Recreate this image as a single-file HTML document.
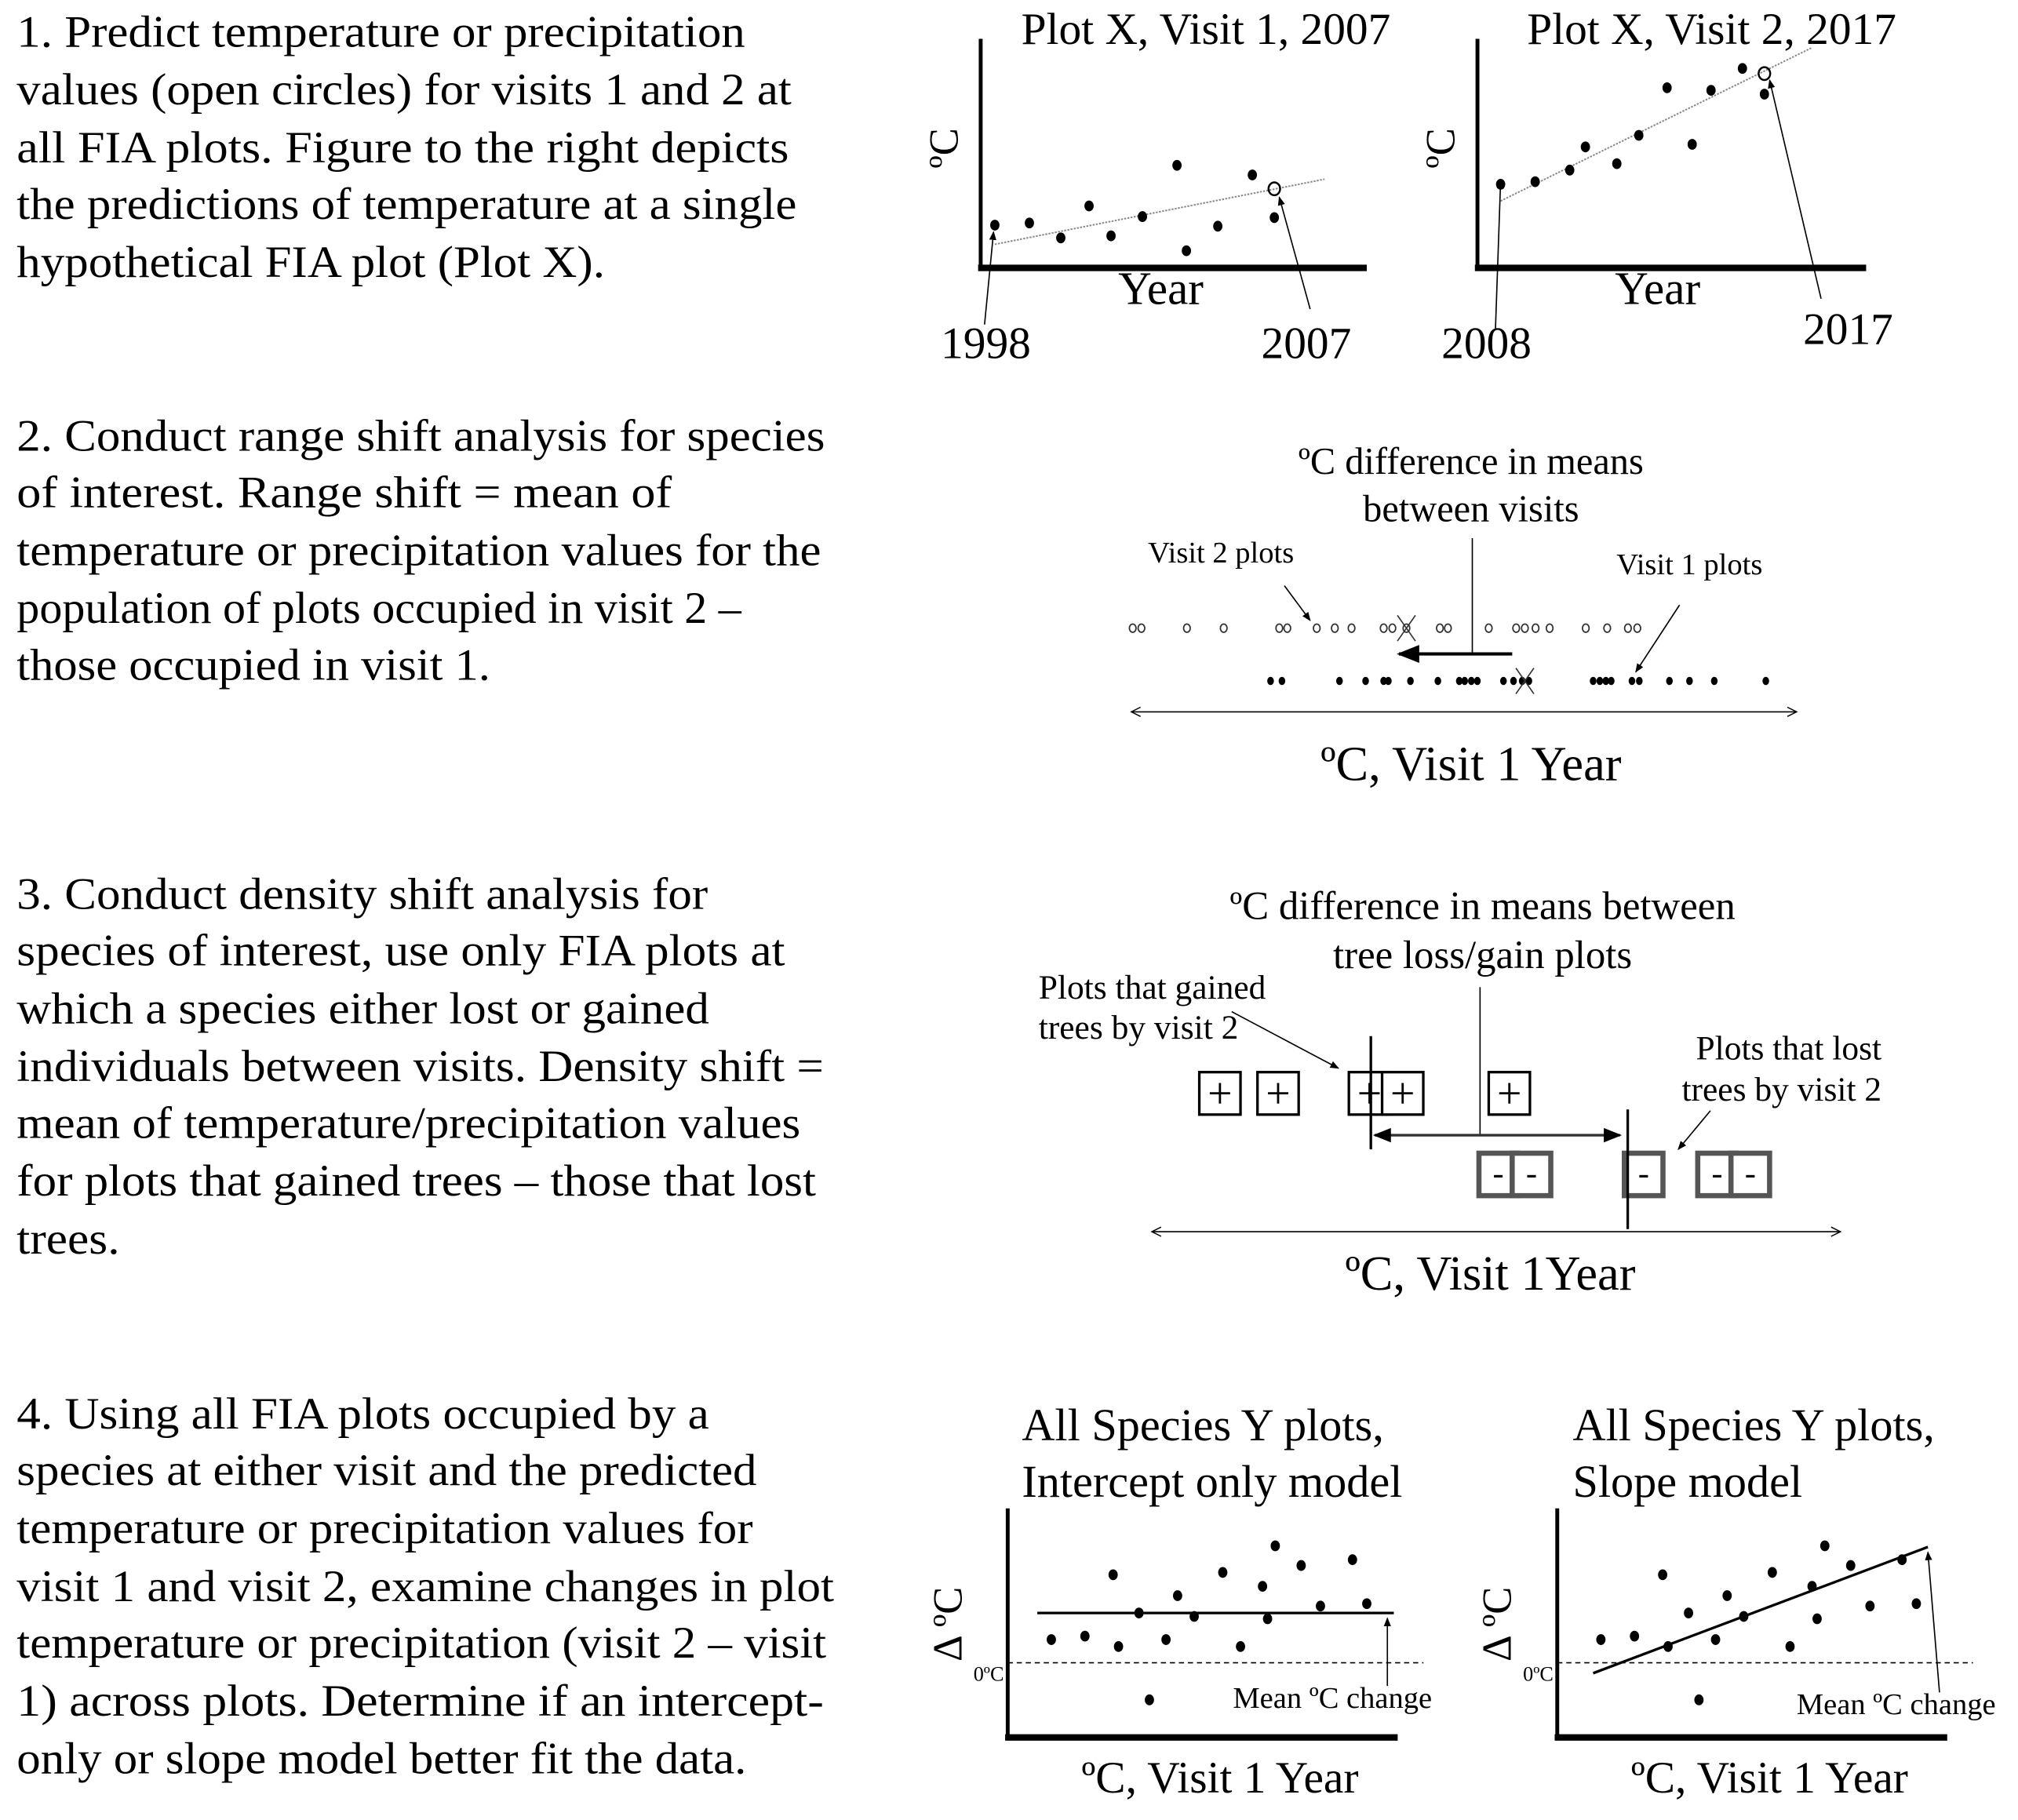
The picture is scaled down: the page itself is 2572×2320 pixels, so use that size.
<!DOCTYPE html>
<html><head><meta charset="utf-8">
<style>
html,body{margin:0;padding:0;background:#fff;}
svg{display:block;}
text{font-family:"Liberation Serif","Times New Roman",serif;fill:#000;}
</style></head>
<body>
<svg id="fig" width="2572" height="2320" viewBox="0 0 1568 1414" xmlns="http://www.w3.org/2000/svg">
<defs>
<marker id="ah" viewBox="0 0 10 10" refX="9" refY="5" markerWidth="7" markerHeight="7" orient="auto-start-reverse"><path d="M0,1 L10,5 L0,9 z" fill="#000"/></marker>
<marker id="ao" viewBox="0 0 10 10" refX="9" refY="5" markerWidth="9" markerHeight="9" orient="auto-start-reverse"><path d="M1,1 L9,5 L1,9" fill="none" stroke="#000" stroke-width="1"/></marker>
</defs>

<g font-size="35" lengthAdjust="spacingAndGlyphs">
<text x="13" y="36" textLength="566" lengthAdjust="spacingAndGlyphs">1. Predict temperature or precipitation</text>
<text x="13" y="81" textLength="602" lengthAdjust="spacingAndGlyphs">values (open circles) for visits 1 and 2 at</text>
<text x="13" y="126" textLength="600" lengthAdjust="spacingAndGlyphs">all FIA plots.  Figure to the right depicts</text>
<text x="13" y="170" textLength="606" lengthAdjust="spacingAndGlyphs">the predictions of temperature at a single</text>
<text x="13" y="215" textLength="457" lengthAdjust="spacingAndGlyphs">hypothetical FIA plot (Plot X).</text>
</g>
<g font-size="35">
<text x="13" y="350" textLength="628" lengthAdjust="spacingAndGlyphs">2. Conduct range shift analysis for species</text>
<text x="13" y="394" textLength="509" lengthAdjust="spacingAndGlyphs">of interest.  Range shift = mean of</text>
<text x="13" y="439" textLength="625" lengthAdjust="spacingAndGlyphs">temperature or precipitation values for the</text>
<text x="13" y="484" textLength="563" lengthAdjust="spacingAndGlyphs">population of plots occupied in visit 2 –</text>
<text x="13" y="528" textLength="368" lengthAdjust="spacingAndGlyphs">those occupied in visit 1.</text>
</g>
<g font-size="35">
<text x="13" y="706" textLength="537" lengthAdjust="spacingAndGlyphs">3. Conduct density shift analysis for</text>
<text x="13" y="750" textLength="597" lengthAdjust="spacingAndGlyphs">species of interest, use only FIA plots at</text>
<text x="13" y="795" textLength="538" lengthAdjust="spacingAndGlyphs">which a species either lost or gained</text>
<text x="13" y="840" textLength="627" lengthAdjust="spacingAndGlyphs">individuals between visits. Density shift =</text>
<text x="13" y="884" textLength="609" lengthAdjust="spacingAndGlyphs">mean of temperature/precipitation values</text>
<text x="13" y="929" textLength="621" lengthAdjust="spacingAndGlyphs">for plots that gained trees – those that lost</text>
<text x="13" y="974" textLength="80" lengthAdjust="spacingAndGlyphs">trees.</text>
</g>
<g font-size="35">
<text x="13" y="1110" textLength="538" lengthAdjust="spacingAndGlyphs">4. Using all FIA plots occupied by a</text>
<text x="13" y="1154" textLength="575" lengthAdjust="spacingAndGlyphs">species at either visit and the predicted</text>
<text x="13" y="1199" textLength="572" lengthAdjust="spacingAndGlyphs">temperature or precipitation values for</text>
<text x="13" y="1244" textLength="635" lengthAdjust="spacingAndGlyphs">visit 1 and visit 2, examine changes in plot</text>
<text x="13" y="1288" textLength="629" lengthAdjust="spacingAndGlyphs">temperature or precipitation (visit 2 – visit</text>
<text x="13" y="1333" textLength="627" lengthAdjust="spacingAndGlyphs">1) across plots.  Determine if an intercept-</text>
<text x="13" y="1378" textLength="567" lengthAdjust="spacingAndGlyphs">only or slope model better fit the data.</text>
</g>

<g>
<text x="937" y="34" font-size="35" text-anchor="middle">Plot X, Visit 1, 2007</text>
<line x1="762" y1="30" x2="762" y2="208" stroke="#000" stroke-width="3"/>
<line x1="760" y1="208" x2="1062" y2="208" stroke="#000" stroke-width="5"/>
<text transform="translate(744,115) rotate(-90)" font-size="32" text-anchor="middle">ºC</text>
<text x="902" y="236" font-size="36" text-anchor="middle">Year</text>
<text x="766" y="278" font-size="35" text-anchor="middle">1998</text>
<text x="1015" y="278" font-size="35" text-anchor="middle">2007</text>
<line x1="765" y1="252" x2="772" y2="180" stroke="#000" stroke-width="1" marker-end="url(#ah)"/>
<line x1="1018" y1="240" x2="994" y2="153" stroke="#000" stroke-width="1" marker-end="url(#ah)"/>
<g id="p1a"></g>
</g>
<g>
<text x="1330" y="34" font-size="35" text-anchor="middle">Plot X, Visit 2, 2017</text>
<line x1="1148" y1="30" x2="1148" y2="208" stroke="#000" stroke-width="3"/>
<line x1="1146" y1="208" x2="1450" y2="208" stroke="#000" stroke-width="5"/>
<text transform="translate(1130,115) rotate(-90)" font-size="32" text-anchor="middle">ºC</text>
<text x="1288" y="236" font-size="36" text-anchor="middle">Year</text>
<text x="1155" y="278" font-size="35" text-anchor="middle">2008</text>
<text x="1436" y="267" font-size="35" text-anchor="middle">2017</text>
<line x1="1162" y1="255" x2="1166" y2="140" stroke="#000" stroke-width="1" marker-end="url(#ah)"/>
<line x1="1415" y1="232" x2="1375" y2="62" stroke="#000" stroke-width="1" marker-end="url(#ah)"/>
<g id="p1b"></g>
</g>

<g>
<text x="1143" y="368" font-size="29.5" text-anchor="middle">ºC difference  in means</text>
<text x="1143" y="405" font-size="29.5" text-anchor="middle">between visits</text>
<line x1="1144" y1="418" x2="1144" y2="508" stroke="#000" stroke-width="1"/>
<line x1="1175" y1="508" x2="1087" y2="508" stroke="#000" stroke-width="2.5" marker-end="url(#ah)"/>
<text x="892" y="437" font-size="23.5">Visit 2 plots</text>
<line x1="998" y1="455" x2="1018" y2="482" stroke="#000" stroke-width="1" marker-end="url(#ah)"/>
<text x="1256" y="446" font-size="23.5">Visit 1 plots</text>
<line x1="1305" y1="470" x2="1271" y2="522" stroke="#000" stroke-width="1" marker-end="url(#ah)"/>
<line x1="879" y1="553" x2="1396" y2="553" stroke="#000" stroke-width="1" marker-start="url(#ao)" marker-end="url(#ao)"/>
<text x="1143" y="606" font-size="38" text-anchor="middle">ºC, Visit 1 Year</text>
<g id="p2"></g>
</g>

<g>
<text x="1152" y="714" font-size="31" text-anchor="middle">ºC difference  in means  between</text>
<text x="1152" y="752" font-size="31" text-anchor="middle">tree loss/gain  plots</text>
<text x="807" y="776" font-size="26.5">Plots that gained</text>
<text x="807" y="807" font-size="26.5">trees by visit 2</text>
<line x1="957" y1="786" x2="1040" y2="830" stroke="#000" stroke-width="1" marker-end="url(#ah)"/>
<text x="1462" y="823" font-size="26.5" text-anchor="end">Plots that lost</text>
<text x="1462" y="855" font-size="26.5" text-anchor="end">trees by visit 2</text>
<line x1="1329" y1="863" x2="1304" y2="893" stroke="#000" stroke-width="1" marker-end="url(#ah)"/>
<line x1="1150" y1="767" x2="1150" y2="882" stroke="#000" stroke-width="1"/>
<line x1="895" y1="957" x2="1430" y2="957" stroke="#000" stroke-width="1" marker-start="url(#ao)" marker-end="url(#ao)"/>
<text x="1158" y="1002" font-size="38" text-anchor="middle">ºC, Visit 1Year</text>
<g id="p3"></g>
</g>

<g>
<text x="794" y="1119" font-size="35.5">All Species Y plots,</text>
<text x="794" y="1163" font-size="35.5">Intercept only model</text>
<text x="948" y="1393" font-size="35" text-anchor="middle">ºC, Visit 1 Year</text>
<g id="p4a"></g>
</g>
<g>
<text x="1222" y="1119" font-size="35.5">All Species Y plots,</text>
<text x="1222" y="1163" font-size="35.5">Slope model</text>
<text x="1375" y="1393" font-size="35" text-anchor="middle">ºC, Visit 1 Year</text>
<g id="p4b"></g>
</g>
</svg>
<script>
// Panel 1 visit 1: year index vs temperature
const v1Years = [0, 1.1, 2.1, 3.0, 3.7, 4.7, 5.8, 6.1, 7.1, 8.2, 8.9];
const v1Temps = [2.8, 3.0, 1.6, 4.6, 1.8, 3.6, 8.4, 0.4, 2.7, 7.5, 3.5];
const v1PredYear = [8.9];
const v1PredTemp = [6.2];
const v1TrendYears = [0, 10.5];
const v1TrendTemps = [1.0, 7.1];
// Panel 1 visit 2
const v2Years = [0, 1.1, 2.2, 2.7, 3.7, 4.4, 5.3, 6.1, 6.7, 7.7, 8.4];
const v2Temps = [5.7, 5.9, 6.8, 8.6, 7.3, 9.5, 13.2, 8.8, 13.0, 14.7, 12.7];
const v2PredYear = [8.4];
const v2PredTemp = [14.3];
const v2TrendYears = [0, 9.9];
const v2TrendTemps = [4.4, 16.3];
// Panel 2: visit 2 (open) and visit 1 (filled) plot temperatures (0-100 axis)
const visit2Temps = [0.6, 1.9, 8.7, 14.2, 22.5, 23.7, 28.1, 30.8, 33.3, 38.1, 39.4, 41.5, 46.5, 47.7, 53.8, 57.9, 59.2, 60.8, 62.9, 68.3, 71.5, 74.6, 76.0];
const visit2Mean = [41.5];
const visit1Temps = [21.2, 22.9, 31.5, 35.4, 38.1, 38.8, 42.1, 46.2, 49.4, 50.2, 51.2, 52.1, 56.0, 57.5, 58.8, 59.8, 69.4, 70.4, 71.3, 72.1, 75.2, 76.3, 80.8, 83.8, 87.5, 95.2];
const visit1Mean = [59.2];
// Panel 3: gained (+) and lost (-) plot temperatures (0-100 axis)
const gainedTemps = [10.2, 18.6, 31.8, 36.6, 52.0];
const gainedMean = [32.0];
const lostTemps = [50.4, 55.2, 71.4, 82.0, 86.8];
const lostMean = [69.1];
// Panel 4: plot temperature (x, 0-100) vs change (y)
const dxTemps = [11.3, 20, 28.7, 27.3, 34, 36.7, 41, 44, 48.3, 55.7, 60.3, 66, 67.3, 69.3, 76, 81, 89.3, 93];
const dyChange = [2.0, 2.3, 1.4, 7.6, 4.3, -3.2, 2.0, 5.8, 4.0, 7.8, 1.4, 6.6, 3.8, 10.1, 8.4, 4.9, 8.9, 5.1];
const meanChange = [4.3];
const slopeX = [9.3, 96];
const slopeY = [-0.9, 10.0];

const NS = 'http://www.w3.org/2000/svg';
function mk(parent, tag, attrs) {
  const el = document.createElementNS(NS, tag);
  for (const k in attrs) el.setAttribute(k, attrs[k]);
  parent.appendChild(el);
  return el;
}
function lin(d0, d1, r0, r1) { return v => r0 + (v - d0) * (r1 - r0) / (d1 - d0); }

function scatterPanel(gid, xs, ys, px, py, tx, ty, sx, sy, prefix) {
  const g = document.getElementById(gid);
  const tl = mk(g, 'line', {x1: sx(tx[0]), y1: sy(ty[0]), x2: sx(tx[1]), y2: sy(ty[1]), stroke: '#888', 'stroke-width': 1.2, 'stroke-dasharray': '1.5 1'});
  
  
  xs.forEach((x, i) => {
    const c = mk(g, 'ellipse', {cx: sx(x), cy: sy(ys[i]), rx: 3.6, ry: 4.2, fill: '#000'});
    
    
  });
  const o = mk(g, 'ellipse', {cx: sx(px[0]), cy: sy(py[0]), rx: 4.5, ry: 5, fill: 'none', stroke: '#000', 'stroke-width': 1.5});
  
  
}
scatterPanel('p1a', v1Years, v1Temps, v1PredYear, v1PredTemp, v1TrendYears, v1TrendTemps,
  lin(0, 1, 773, 797.4), lin(0, 1, 198, 189.7), 'visit1');
scatterPanel('p1b', v2Years, v2Temps, v2PredYear, v2PredTemp, v2TrendYears, v2TrendTemps,
  lin(0, 1, 1166, 1190.4), lin(0, 1, 200, 190), 'visit2');

(function(){
  const g = document.getElementById('p2');
  const sx = lin(0, 100, 877, 1397);
  visit2Temps.forEach(t => {
    const c = mk(g, 'ellipse', {cx: sx(t), cy: 488, rx: 2.6, ry: 3.2, fill: 'none', stroke: '#333', 'stroke-width': 1.1});
    
    
  });
  visit1Temps.forEach(t => {
    const c = mk(g, 'ellipse', {cx: sx(t), cy: 529, rx: 2.6, ry: 3.2, fill: '#000'});
    
    
  });
  [[visit2Mean[0], 488, 'visit2-mean-x'], [visit1Mean[0], 529, 'visit1-mean-x']].forEach(([t, y, n]) => {
    const x = sx(t);
    const p = mk(g, 'path', {d: `M${x-7},${y-10} L${x+7},${y+10} M${x+7},${y-10} L${x-7},${y+10}`, stroke: '#333', 'stroke-width': 1, fill: 'none'});
    
    
  });
})();

(function(){
  const g = document.getElementById('p3');
  const sx = lin(0, 100, 893, 1431);
  gainedTemps.forEach(t => {
    const x = sx(t);
    const r = mk(g, 'rect', {x: x - 16, y: 833, width: 32, height: 33, fill: '#fff', stroke: '#000', 'stroke-width': 2});
    
    
    const tx = mk(g, 'text', {x: x, y: 861, 'font-size': 34, 'text-anchor': 'middle', 'font-family': 'Liberation Sans, sans-serif'});
    tx.textContent = '+';
    
    
  });
  lostTemps.forEach(t => {
    const x = sx(t);
    const r = mk(g, 'rect', {x: x - 15, y: 896, width: 30, height: 33, fill: '#fff', stroke: '#555', 'stroke-width': 4});
    
    
    const tx = mk(g, 'text', {x: x, y: 920, 'font-size': 26, 'text-anchor': 'middle'});
    tx.textContent = '-';
    
    
  });
  const gm = sx(gainedMean[0]), lm = sx(lostMean[0]);
  const a = mk(g, 'line', {x1: gm, y1: 805, x2: gm, y2: 893, stroke: '#000', 'stroke-width': 2});
  
  
  const b = mk(g, 'line', {x1: lm, y1: 862, x2: lm, y2: 955, stroke: '#000', 'stroke-width': 2});
  
  
  const d = mk(g, 'line', {x1: gm + 3, y1: 882, x2: lm - 6, y2: 882, stroke: '#333', 'stroke-width': 2, 'marker-start': 'url(#ah)', 'marker-end': 'url(#ah)'});
  
  
})();

function changePanel(gid, ox, slope, prefix) {
  const g = document.getElementById(gid);
  const sx = lin(0, 100, ox, ox + 300);
  const sy = lin(0, 1, 1292, 1283);
  const ax = mk(g, 'line', {x1: ox, y1: 1172, x2: ox, y2: 1350, stroke: '#000', 'stroke-width': 3});
  
  
  const bx = mk(g, 'line', {x1: ox - 2, y1: 1350, x2: ox + 303, y2: 1350, stroke: '#000', 'stroke-width': 5});
  
  
  const z = mk(g, 'line', {x1: ox, y1: sy(0), x2: ox + 323, y2: sy(0), stroke: '#000', 'stroke-width': 1, 'stroke-dasharray': '4 3'});
  
  
  const zl = mk(g, 'text', {x: ox - 3, y: 1306, 'font-size': 16, 'text-anchor': 'end'});
  zl.textContent = '0ºC';
  
  
  const yt = mk(g, 'text', {transform: `translate(${ox - 36},1262) rotate(-90)`, 'font-size': 32, 'text-anchor': 'middle'});
  yt.textContent = 'Δ ºC';
  
  
  dxTemps.forEach((x, i) => {
    const c = mk(g, 'ellipse', {cx: sx(x), cy: sy(dyChange[i]), rx: 3.6, ry: 4.2, fill: '#000'});
    
    
  });
  let fit, ml;
  if (!slope) {
    fit = mk(g, 'line', {x1: ox + 23, y1: sy(meanChange[0]), x2: ox + 300, y2: sy(meanChange[0]), stroke: '#000', 'stroke-width': 2});
    ml = mk(g, 'text', {x: ox + 175, y: 1327, 'font-size': 23.5});
    mk(g, 'line', {x1: ox + 295, y1: 1310, x2: ox + 295, y2: sy(meanChange[0]) + 4, stroke: '#000', 'stroke-width': 1, 'marker-end': 'url(#ah)'});
  } else {
    fit = mk(g, 'line', {x1: sx(slopeX[0]), y1: sy(slopeY[0]), x2: sx(slopeX[1]), y2: sy(slopeY[1]), stroke: '#000', 'stroke-width': 2});
    ml = mk(g, 'text', {x: ox + 186, y: 1332, 'font-size': 23.5});
    mk(g, 'line', {x1: ox + 297, y1: 1315, x2: ox + 288, y2: 1206, stroke: '#000', 'stroke-width': 1, 'marker-end': 'url(#ah)'});
  }
  
  
  ml.textContent = 'Mean ºC change';
  
  
}
changePanel('p4a', 783, false, 'intercept');
changePanel('p4b', 1210, true, 'slope');
</script>
</body></html>
